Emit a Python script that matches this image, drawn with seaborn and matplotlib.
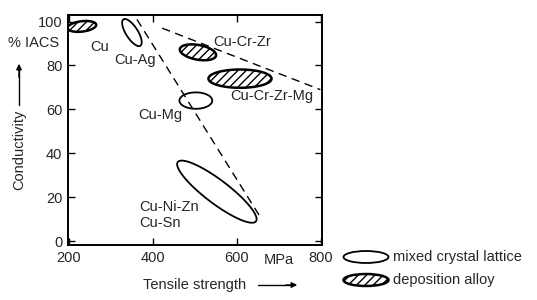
import numpy as np
import pandas as pd
import matplotlib
matplotlib.use("Agg")
import matplotlib.pyplot as plt
from matplotlib.patches import Polygon, Ellipse
import seaborn as sns

# ---- data ----
alloys = ["Cu", "Cu-Ag", "Cu-Cr-Zr", "Cu-Cr-Zr-Mg", "Cu-Mg", "Cu-Ni-Zn / Cu-Sn"]
kind = ["deposition", "mixed", "deposition", "deposition", "mixed", "mixed"]
# ellipse centres (tensile strength MPa, conductivity %IACS)
strength_c = [231, 350, 507, 607, 502, 552]
conduct_c = [97.8, 95.0, 86.0, 74.0, 64.0, 22.5]
# half major axis vector (data units) and minor/major ratio
major_dx = [34, -20, 43, 75, 39, -93]
major_dy = [0.8, 6.0, -1.5, 0.0, 0.0, 13.5]
minor_ratio = [0.36, 0.38, 0.4, 0.29, 0.5, 0.24]

# dashed trend lines
line1_x = [362, 655]
line1_y = [101, 11]
line2_x = [422, 798]
line2_y = [97, 69]

labels = ["Cu", "Cu-Ag", "Cu-Cr-Zr", "Cu-Cr-Zr-Mg", "Cu-Mg", "Cu-Ni-Zn", "Cu-Sn"]
label_x = [274, 357, 612, 683, 417, 367, 367]
label_y = [88.5, 82.5, 90.5, 66, 57.5, 15.5, 8]
label_ha = ["center", "center", "center", "center", "center", "left", "left"]

xticks = [200, 400, 600, 800]
yticks = [0, 20, 40, 60, 80, 100]

sns.set_theme(style="ticks")
plt.rcParams['font.family'] = ['Liberation Sans', 'DejaVu Sans']
plt.rcParams['hatch.linewidth'] = 1.0

fig = plt.figure(figsize=(5.37, 3.0), dpi=100)
ax = fig.add_axes([68/537, 55/300, 254/537, 230/300])
ax.set_xlim(198, 802)
ax.set_ylim(-1.8, 103)

fs = 10.5
df1 = pd.DataFrame({"x": line1_x, "y": line1_y})
df2 = pd.DataFrame({"x": line2_x, "y": line2_y})
sns.lineplot(data=df1, x="x", y="y", ax=ax, color="black", lw=1.0,
             linestyle=(0, (6, 4)))
sns.lineplot(data=df2, x="x", y="y", ax=ax, color="black", lw=1.0,
             linestyle=(0, (6, 4)))

fig.canvas.draw()
T = ax.transData
for cx, cy, dx, dy, r, k in zip(strength_c, conduct_c, major_dx, major_dy, minor_ratio, kind):
    c = T.transform((cx, cy))
    e = T.transform((cx + dx, cy + dy)) - c
    perp = np.array([-e[1], e[0]]) * r
    t = np.linspace(0, 2*np.pi, 120)
    pts = c + np.outer(np.cos(t), e) + np.outer(np.sin(t), perp)
    pts = T.inverted().transform(pts)
    if k == "deposition":
        poly = Polygon(pts, closed=True, facecolor="white", edgecolor="black",
                       lw=1.8, hatch="////")
    else:
        poly = Polygon(pts, closed=True, facecolor="none", edgecolor="black", lw=1.3)
    ax.add_patch(poly)

for s, x, y, ha in zip(labels, label_x, label_y, label_ha):
    ax.text(x, y, s, ha=ha, va="center", fontsize=fs)

ax.set_xticks(xticks)
ax.set_yticks(yticks)
ax.set_xticklabels([str(v) for v in xticks], fontsize=fs)
ax.set_yticklabels([str(v) for v in yticks], fontsize=fs)
ax.tick_params(direction="in", length=5, width=1, top=True, right=True, pad=4,
               color="black")
ax.set_xlabel("")
ax.set_ylabel("")
for sp in ax.spines.values():
    sp.set_linewidth(1.4)
    sp.set_color("black")

ax.text(700, -5.5, "MPa", ha="center", va="top", fontsize=fs)
fig.text(8/537, 1 - 43/300, "% IACS", ha="left", va="center", fontsize=fs)
fig.text(19/537, 1 - 150/300, "Conductivity", rotation=90, ha="center", va="center",
         fontsize=fs)
fig.add_artist(plt.Line2D([19/537, 19/537], [1 - 105/300, 1 - 70/300], color="black", lw=1.0))
fig.add_artist(matplotlib.patches.FancyArrowPatch((19/537, 1 - 80/300), (19/537, 1 - 61/300),
               transform=fig.transFigure, arrowstyle="-|>", mutation_scale=8, color="black", lw=1))
fig.text(143/537, 1 - 285/300, "Tensile strength", ha="left", va="center", fontsize=fs)
fig.add_artist(plt.Line2D([258/537, 290/537], [1 - 285/300, 1 - 285/300], color="black", lw=1.0))
fig.add_artist(matplotlib.patches.FancyArrowPatch((283/537, 1 - 285/300), (300/537, 1 - 285/300),
               transform=fig.transFigure, arrowstyle="-|>", mutation_scale=8, color="black", lw=1))

# legend
lx = 366
fig.add_artist(Ellipse((lx/537, 1 - 257/300), 45/537, 12/300, transform=fig.transFigure,
                       facecolor="none", edgecolor="black", lw=1.3))
fig.add_artist(Ellipse((lx/537, 1 - 280/300), 45/537, 12/300, transform=fig.transFigure,
                       facecolor="white", edgecolor="black", lw=1.8, hatch="////"))
fig.text(393/537, 1 - 257/300, "mixed crystal lattice", ha="left", va="center", fontsize=fs)
fig.text(393/537, 1 - 280/300, "deposition alloy", ha="left", va="center", fontsize=fs)

fig.savefig("out.png", dpi=100)
